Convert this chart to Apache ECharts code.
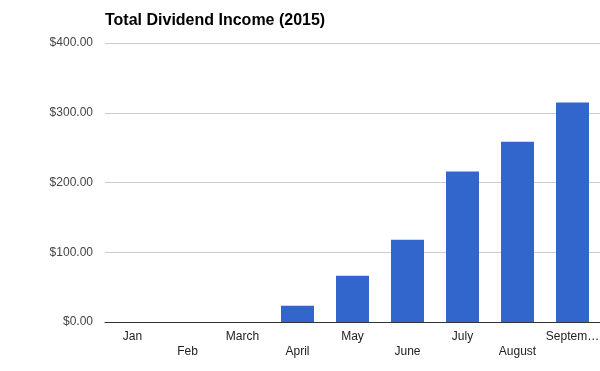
<!DOCTYPE html>
<html><head><meta charset="utf-8">
<script src="https://cdn.jsdelivr.net/npm/echarts@6/dist/echarts.min.js"></script>
<style>html,body{margin:0;padding:0;background:#fff}#c{width:600px;height:371px}</style>
</head><body><div id="c"></div>
<script>
var categories = ['Jan','Feb','March','April','May','June','July','August','September'];
var values = [0, 0, 0, 23.4, 66.4, 118, 215.6, 258.6, 314.6];
var yTicks = [0, 100, 200, 300, 400];

var chart = echarts.init(document.getElementById('c'), null, {renderer:'canvas'});
chart.setOption({
  animation: false,
  backgroundColor: '#fff',
  title: {
    text: 'Total Dividend Income (2015)',
    left: 105, top: 13, padding: 0,
    textStyle: {fontFamily: 'Liberation Sans, Arial, sans-serif', fontWeight: 'bold', fontSize: 16, color: '#000'}
  },
  grid: {left: 105, right: 0, top: 43, bottom: 49, containLabel: false, outerBoundsMode: 'none'},
  xAxis: {
    type: 'category',
    data: categories,
    axisLine: {lineStyle: {color: '#333', width: 1}},
    axisTick: {show: false},
    axisLabel: {
      interval: 0,
      margin: 7,
      lineHeight: 15,
      fontFamily: 'Liberation Sans, Arial, sans-serif',
      fontSize: 12,
      color: '#222',
      width: 58,
      overflow: 'truncate',
      ellipsis: '…',
      formatter: function (v, i) { return (i % 2 === 1 ? '\n' : '') + v; }
    }
  },
  yAxis: {
    type: 'value',
    min: yTicks[0], max: yTicks[yTicks.length - 1], interval: 100,
    axisLine: {show: false},
    axisTick: {show: false},
    splitLine: {lineStyle: {color: '#ccc', width: 1}},
    axisLabel: {
      margin: 12,
      fontFamily: 'Liberation Sans, Arial, sans-serif',
      fontSize: 12,
      color: '#444',
      formatter: function (v) { return '$' + v.toFixed(2); }
    }
  },
  series: [{
    type: 'bar',
    data: values,
    barWidth: '60%',
    itemStyle: {color: '#3366cc'}
  }]
});
</script></body></html>
